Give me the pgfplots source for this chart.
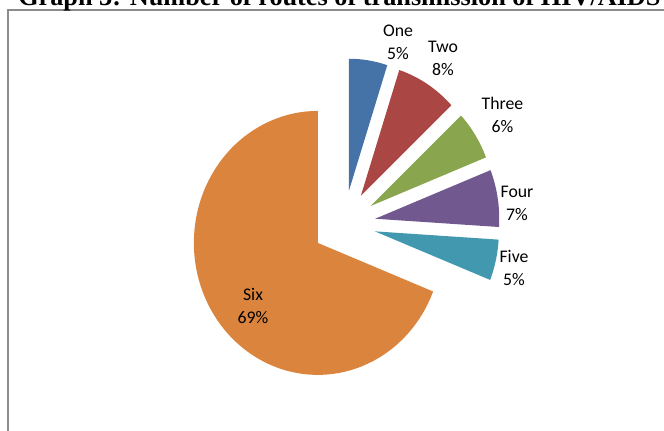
\documentclass[border=0pt]{standalone}
\usepackage{pgfplots}
\pgfplotsset{compat=1.18}
\usepackage{fontspec}
\setmainfont{Carlito}
\newfontfamily\titlefont{Liberation Serif}

\definecolor{cOne}{HTML}{4572A7}
\definecolor{cTwo}{HTML}{AA4643}
\definecolor{cThree}{HTML}{89A54E}
\definecolor{cFour}{HTML}{71588F}
\definecolor{cFive}{HTML}{4198AF}
\definecolor{cSix}{HTML}{DB843D}
\definecolor{frame}{HTML}{8C8C8C}

% pie geometry, in pixels of the 664x431 picture (y counted upwards)
\def\cx{344}\def\cy{207}\def\rx{124}\def\ry{132}\def\ex{0.255}

% #1 cumulative share before the slice (%), #2 after it (%), #3 colour
\newcommand{\slice}[3]{%
  \pgfmathsetmacro{\sA}{90-3.6*#1}%
  \pgfmathsetmacro{\sB}{90-3.6*#2}%
  \pgfmathsetmacro{\sM}{(\sA+\sB)/2}%
  \pgfmathsetmacro{\px}{\cx+\ex*\rx*cos(\sM)}%
  \pgfmathsetmacro{\py}{\cy+\ex*\ry*sin(\sM)}%
  \edef\doslice{\noexpand\addplot[fill=#3, draw=none, domain=\sB:\sA, samples=90]
    ({\px+\rx*cos(x)}, {\py+\ry*sin(x)}) -- (axis cs:\px,\py) -- cycle;}%
  \doslice}

% two-line data label: x, baseline of first line, name, share
\newcommand{\lab}[4]{%
  \node[lbl] at (axis cs:#1,#2) {#3};
  \node[lbl] at (axis cs:#1,#2-23) {#4};}

\begin{document}
\begin{tikzpicture}[lbl/.style={anchor=base, inner sep=0pt, text=black,
    font=\fontsize{13.3pt}{15pt}\selectfont}]
\begin{axis}[
    width=498pt, height=323.25pt, scale only axis,
    xmin=0, xmax=664, ymin=0, ymax=431,
    axis lines=none, clip=false]
  \coordinate (bl) at (axis cs:0,0);
  \coordinate (tr) at (axis cs:664,431);

  % shares: One 5, Two 8, Three 6, Four 7, Five 5, Six 69
  \slice{0}{5}{cOne}
  \slice{5}{13}{cTwo}
  \slice{13}{19}{cThree}
  \slice{19}{26}{cFour}
  \slice{26}{31}{cFive}
  \slice{31}{100}{cSix}

  \lab{398}{394}{One}{5\%}
  \lab{443}{378}{Two}{8\%}
  \lab{502.5}{321}{Three}{6\%}
  \lab{517}{233}{Four}{7\%}
  \lab{514}{168}{Five}{5\%}
  \lab{253}{130}{Six}{69\%}

  \draw[frame, line width=0.8pt] (axis cs:8,0) -- (axis cs:8,421) -- (axis cs:664,421);
  \node[anchor=base west, inner sep=0pt,
        font=\titlefont\bfseries\fontsize{19.7pt}{23pt}\selectfont]
    at (axis cs:18,425) {Graph 3: Number of routes of transmission of HIV/AIDS};
\end{axis}
\pgfresetboundingbox
\useasboundingbox (bl) rectangle (tr);
\end{tikzpicture}
\end{document}
